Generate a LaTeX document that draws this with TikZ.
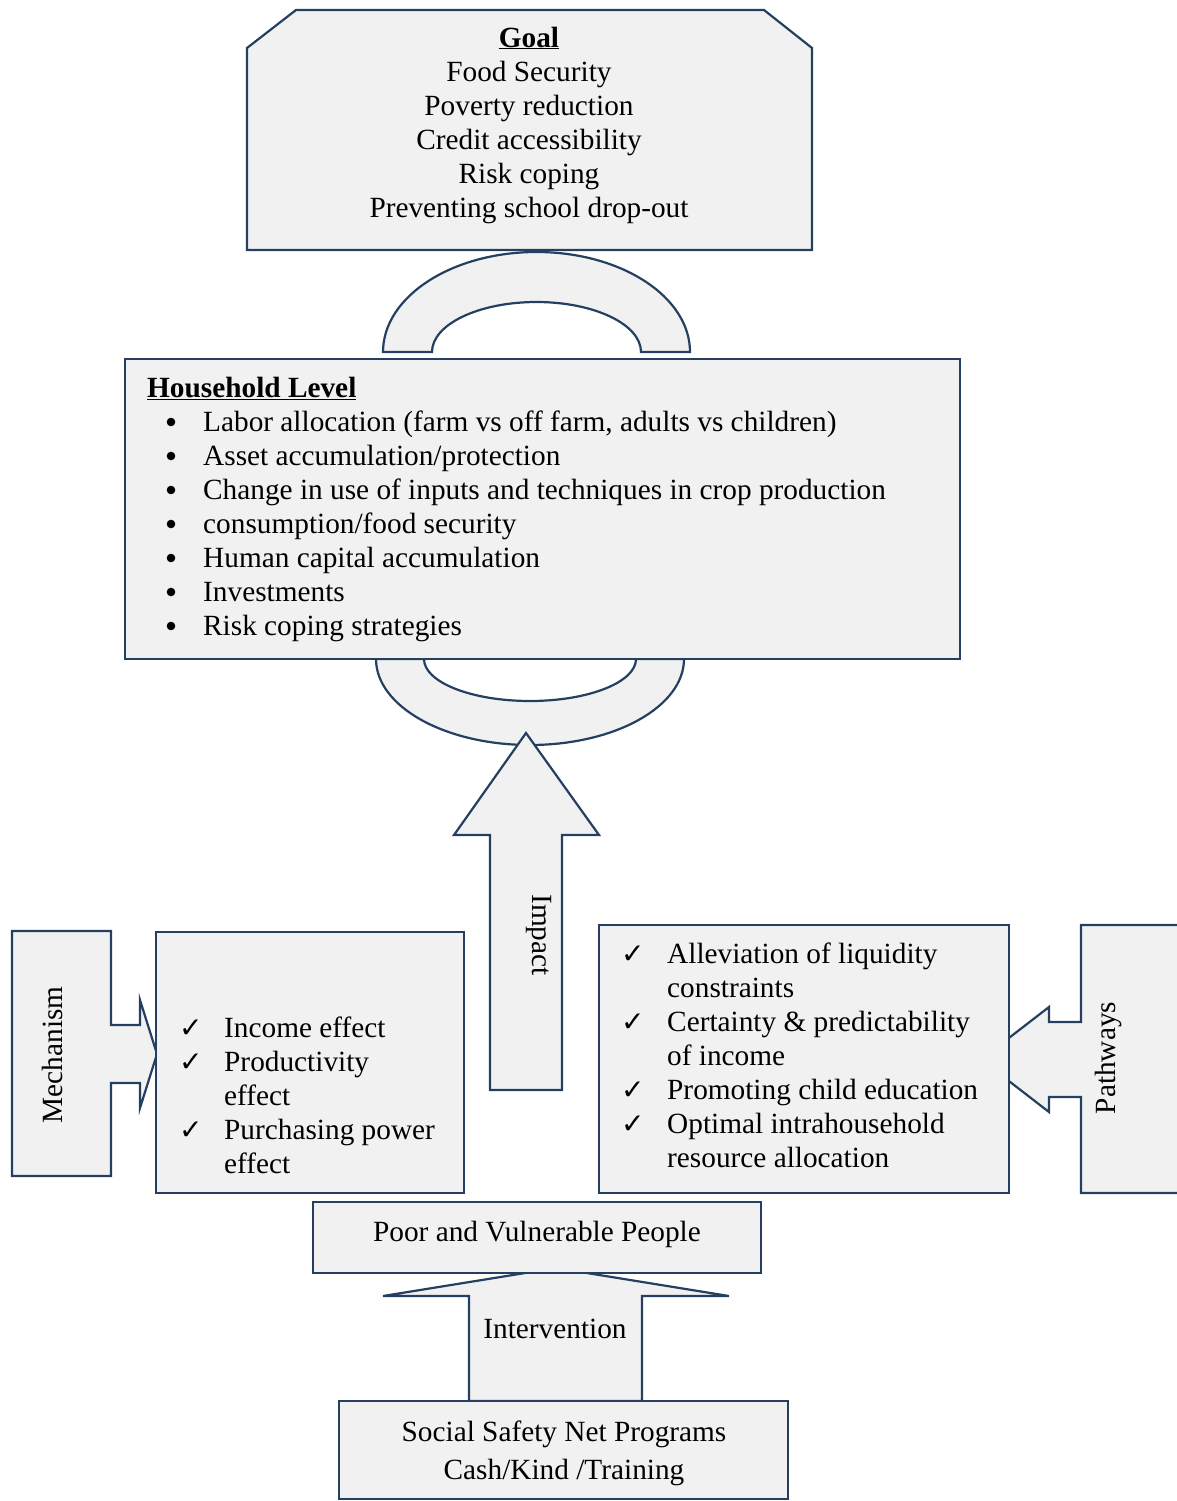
\documentclass[tikz,border=0pt]{standalone}
\usepackage{fontspec}
\setmainfont{Liberation Serif}
\newfontfamily\symfont{DejaVu Sans}
\definecolor{edge}{RGB}{36,63,96}
\definecolor{boxfill}{RGB}{241,241,241}
\newcommand{\chk}{{\symfont\bfseries\fontsize{28}{28}\selectfont ✓}}
\newcommand{\mkA}{\makebox[45pt][l]{\chk}}
\newcommand{\indA}{\hspace*{45pt}}
\newcommand{\mkB}{\makebox[46pt][l]{\chk}}
\newcommand{\indB}{\hspace*{46pt}}
\newcommand{\bul}{\hspace*{56pt}}
\begin{document}
\begin{tikzpicture}[x=1pt,y=1pt,
  shp/.style={draw=edge, fill=boxfill, line width=2.2pt, line join=miter},
  box/.style={shp, rectangle, inner sep=0pt, outer sep=0pt},
  txt/.style={inner sep=0pt, font=\fontsize{29.3}{34}\selectfont, text=black},
  dot/.style={fill=black}]
\useasboundingbox (0,0) rectangle (1177,-1501);

% Goal box (chamfered top corners)
\draw[shp] (296,-10) -- (764,-10) -- (812,-48) -- (812,-250) -- (247,-250) -- (247,-48) -- cycle;
\node[txt, align=center] (goaltxt) at (529,-125) {\underline{\textbf{Goal}}\\Food Security\\Poverty reduction\\Credit accessibility\\Risk coping\\Preventing school drop-out};

% top arch
\draw[shp] (383,-352) arc[start angle=180, end angle=0, x radius=153.5pt, y radius=100pt]
  -- (641,-352) arc[start angle=0, end angle=180, x radius=104.5pt, y radius=50pt] -- cycle;

% bottom arch
\draw[shp] (376,-659) arc[start angle=180, end angle=360, x radius=154pt, y radius=86pt]
  -- (636,-659) arc[start angle=0, end angle=-180, x radius=106pt, y radius=42pt] -- cycle;

% Household box
\node[box, minimum width=835pt, minimum height=300pt] (hh) at (542.5,-509) {};
\node[txt, align=left, anchor=north west] (hhtxt) at (147,-377) {\underline{\textbf{Household Level}}\\
\bul Labor allocation (farm vs off farm, adults vs children)\\
\bul Asset accumulation/protection\\
\bul Change in use of inputs and techniques in crop production\\
\bul consumption/food security\\
\bul Human capital accumulation\\
\bul Investments\\
\bul Risk coping strategies};
\foreach \k in {0,...,6} \fill[dot] (171,{-422-34*\k}) circle[radius=4.3pt];

% Impact arrow
\draw[shp] (526,-733) -- (599,-835) -- (562,-835) -- (562,-1090) -- (490,-1090) -- (490,-835) -- (454,-835) -- cycle;
\node[txt, rotate=-90] (impact) at (539,-935) {Impact};

% Mechanism arrow
\draw[shp] (12,-931) -- (111,-931) -- (111,-1025) -- (140,-1025) -- (140,-1000) -- (157,-1054)
  -- (140,-1108) -- (140,-1083) -- (111,-1083) -- (111,-1176) -- (12,-1176) -- cycle;
\node[txt, rotate=90] (mech) at (52,-1055) {Mechanism};

% Mechanism box
\node[box, minimum width=308pt, minimum height=261pt] (mbox) at (310,-1062.5) {};
\node[txt, align=left, anchor=north west] (mtxt) at (179,-1017) {\mkA Income effect\\
\mkA Productivity\\
\indA effect\\
\mkA Purchasing power\\
\indA effect};

% Pathways arrow
\begin{scope}
\clip (0,0) rectangle (1177,-1501);
\draw[shp] (1185,-925) -- (1081,-925) -- (1081,-1022) -- (1049,-1022) -- (1049,-1007) -- (981,-1059.5)
  -- (1049,-1112) -- (1049,-1097) -- (1081,-1097) -- (1081,-1193) -- (1185,-1193) -- cycle;
\end{scope}
\node[txt, rotate=90] (path) at (1108,-1058) {Pathways};

% Pathways box
\node[box, minimum width=410pt, minimum height=268pt] (pbox) at (804,-1059) {};
\node[txt, align=left, anchor=north west] (ptxt) at (621,-943) {\mkB Alleviation of liquidity\\
\indB constraints\\
\mkB Certainty \& predictability\\
\indB of income\\
\mkB Promoting child education\\
\mkB Optimal intrahousehold\\
\indB resource allocation};

% Intervention arrow
\draw[shp] (556,-1268) -- (729,-1296) -- (642,-1296) -- (642,-1401) -- (469,-1401) -- (469,-1296) -- (383,-1296) -- cycle;
\node[txt] (interv) at (555,-1329) {Intervention};

% Poor and vulnerable people
\node[box, minimum width=448pt, minimum height=71pt] (poor) at (537,-1237.5) {};
\node[txt] (poortxt) at (537,-1234) {Poor and Vulnerable People};

% Social safety net
\node[box, minimum width=449pt, minimum height=98pt] (ssn) at (563.5,-1450) {};
\node[txt, align=center] (ssntxt) at (564,-1453) {Social Safety Net Programs\\[4pt]Cash/Kind /Training};
\end{tikzpicture}
\end{document}
